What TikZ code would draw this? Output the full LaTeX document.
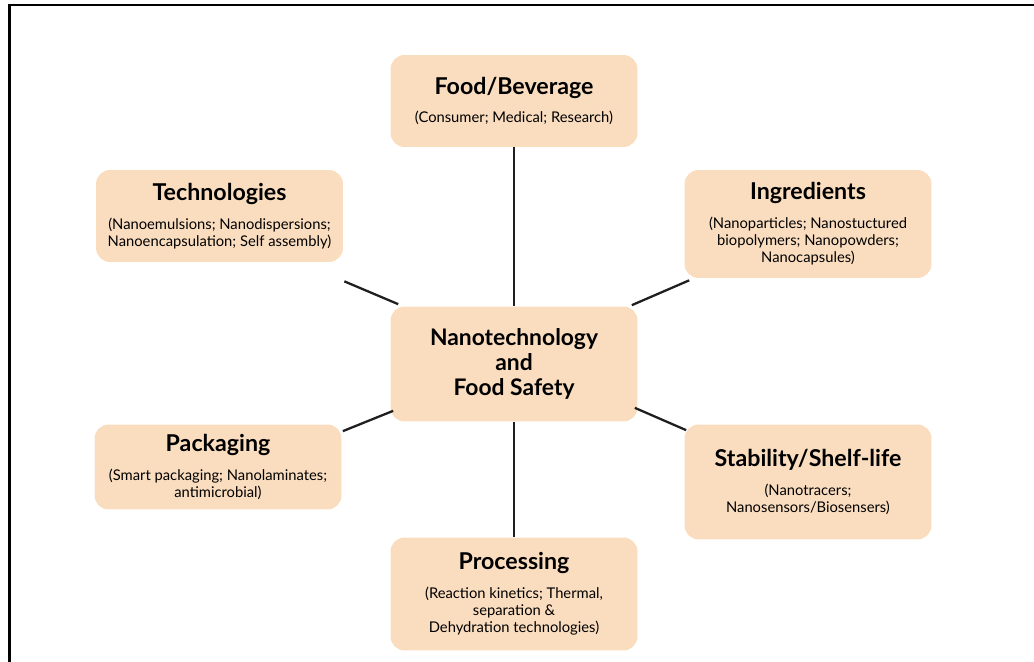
\documentclass[tikz,border=0pt]{standalone}
\usepackage{fontspec}
\setmainfont{Lato}
\usetikzlibrary{calc}

\definecolor{peach}{RGB}{250,221,191}
\newcommand{\head}[1]{{\fontsize{13.2}{15}\selectfont\bfseries #1}\\[6.5pt]}

\begin{document}
\begin{tikzpicture}[
    x=0.02cm, y=-0.02cm,
    topic/.style={fill=peach, rounded corners=8pt, align=center, minimum width=4.94cm, inner sep=4pt, font=\fontsize{8.4}{9.8}\selectfont},
    link/.style={line width=1.3pt, draw=black!88}
  ]
    \useasboundingbox (0,0) rectangle (1034,662);
    \draw[line width=1.2pt] (9.5,662) -- (9.5,5) -- (1034,5);

    % hub in the middle
    \node[topic, minimum height=2.3cm, font=\fontsize{13}{14.3}\selectfont\bfseries] (hub) at (514,364) {Nanotechnology\\and\\Food Safety};

    % surrounding topics
    \node[topic, minimum height=1.84cm] (food) at (514,101) {\head{Food/Beverage}(Consumer; Medical; Research)};
    \node[topic, minimum height=1.84cm] (tech) at (219.5,216) {\head{Technologies}(Nanoemulsions; Nanodispersions;\\Nanoencapsulation; Self assembly)};
    \node[topic, minimum height=2.16cm] (ingr) at (808,224) {\head{Ingredients}(Nanoparticles; Nanostuctured\\biopolymers; Nanopowders;\\Nanocapsules)};
    \node[topic, minimum height=1.7cm] (pack) at (218,467) {\head{Packaging}(Smart packaging; Nanolaminates;\\antimicrobial)};
    \node[topic, minimum height=2.3cm] (stab) at (808,482) {\head{Stability/Shelf-life}(Nanotracers;\\Nanosensors/Biosensers)};
    \node[topic, minimum height=2.26cm] (proc) at (514,594) {\head{Processing}(Reaction kinetics; Thermal,\\separation \&\\Dehydration technologies)};

    % spokes
    \draw[link] (food.south) -- (hub.north);
    \draw[link] (hub.south) -- (proc.north);
    \draw[link] ($(tech.south east)+(1,19)$) -- ($(hub.north west)+(8,-2)$);
    \draw[link] ($(ingr.south west)+(5,2)$) -- ($(hub.north east)+(-6,-1)$);
    \draw[link] ($(pack.north east)+(1,7)$) -- ($(hub.south west)+(3,-11)$);
    \draw[link] ($(stab.north west)+(2,6)$) -- ($(hub.south east)+(-3,-14)$);
  \end{tikzpicture}
\end{document}
